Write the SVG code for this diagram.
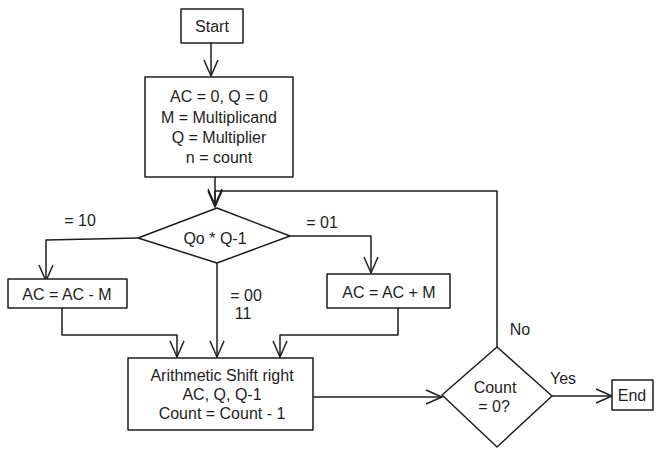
<svg xmlns="http://www.w3.org/2000/svg" width="663" height="456" viewBox="0 0 663 456">
<defs>
<style>
.n{fill:#fff;stroke:#1e1e1e;stroke-width:1.5;stroke-linejoin:round}
.c{fill:none;stroke:#1e1e1e;stroke-width:1.5;stroke-linejoin:round}
text{font-family:"Liberation Sans",Arial,sans-serif;font-size:16px;fill:#1e1e1e;text-anchor:middle;dominant-baseline:central}
</style>
<marker id="a" viewBox="0 0 20 20" refX="18" refY="10" markerWidth="20" markerHeight="20" markerUnits="userSpaceOnUse" orient="auto">
<path d="M2 3 L18 10 L2 17" fill="none" stroke="#1e1e1e" stroke-width="1.5"/>
</marker>
</defs>
<rect width="663" height="456" fill="#fff"/>
<g id="connectors">
<path class="c" d="M211 43 V76" marker-end="url(#a)"/>
<path class="c" d="M215 177 V207" marker-end="url(#a)"/>
<path class="c" d="M138 238 L46 240 V281" marker-end="url(#a)"/>
<path class="c" d="M290 236 L371 236 V273" marker-end="url(#a)"/>
<path class="c" d="M217 263 V357" marker-end="url(#a)"/>
<path class="c" d="M62 308 V335 H177 V357" marker-end="url(#a)"/>
<path class="c" d="M398 308 V335 H280 V357" marker-end="url(#a)"/>
<path class="c" d="M313 397 H442" marker-end="url(#a)"/>
<path class="c" d="M497 347 V191 H215 V205" marker-end="url(#a)"/>
<path class="c" d="M552 396 H612" marker-end="url(#a)"/>
<text x="80" y="220">= 10</text>
<text x="322" y="222">= 01</text>
<text x="246" y="295">= 00</text>
<text x="243" y="313">11</text>
<text x="520" y="329">No</text>
<text x="563" y="378">Yes</text>
</g>
<g id="start">
<rect class="n" x="181" y="9" width="62" height="34"/>
<text x="212" y="26">Start</text>
</g>
<g id="init">
<rect class="n" x="145" y="77" width="148" height="100"/>
<text x="219" y="96">AC = 0, Q = 0</text>
<text x="219" y="117">M = Multiplicand</text>
<text x="219" y="137">Q = Multiplier</text>
<text x="219" y="157">n = count</text>
</g>
<g id="decision1">
<path class="n" d="M217 208 L290 236 L217 263 L138 238 Z"/>
<text x="215" y="238">Qo * Q-1</text>
</g>
<g id="sub">
<rect class="n" x="8" y="279" width="119" height="29"/>
<text x="67" y="294">AC = AC - M</text>
</g>
<g id="add">
<rect class="n" x="327" y="274" width="123" height="34"/>
<text x="389" y="292">AC = AC + M</text>
</g>
<g id="shift">
<rect class="n" x="128" y="358" width="185" height="72"/>
<text x="222" y="375">Arithmetic Shift right</text>
<text x="222" y="394">AC, Q, Q-1</text>
<text x="222" y="413">Count = Count - 1</text>
</g>
<g id="decision2">
<path class="n" d="M497 347 L552 396 L497 447 L442 395 Z"/>
<text x="495" y="387">Count</text>
<text x="494" y="406">= 0?</text>
</g>
<g id="end">
<rect class="n" x="612" y="380" width="41" height="30"/>
<text x="632" y="395">End</text>
</g>
</svg>
